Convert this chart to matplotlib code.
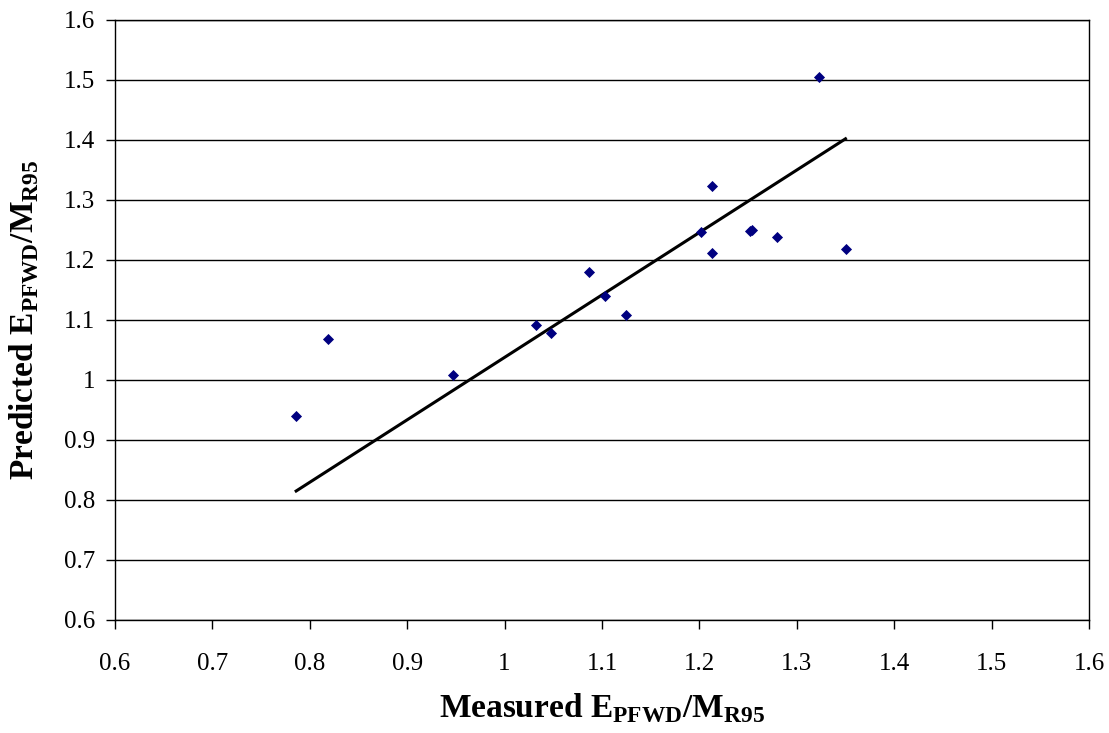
import matplotlib
matplotlib.use("Agg")
import matplotlib.pyplot as plt

measured = [0.786, 0.819, 0.947, 1.032, 1.048, 1.087, 1.103, 1.125,
            1.202, 1.213, 1.213, 1.252, 1.254, 1.280, 1.323, 1.350]
predicted = [0.940, 1.068, 1.008, 1.092, 1.078, 1.180, 1.140, 1.108,
             1.247, 1.323, 1.212, 1.248, 1.250, 1.238, 1.505, 1.218]
trend_x = [0.786, 1.350]
trend_y = [0.815, 1.402]
ticks = [0.6, 0.7, 0.8, 0.9, 1, 1.1, 1.2, 1.3, 1.4, 1.5, 1.6]
tick_labels = ["0.6", "0.7", "0.8", "0.9", "1", "1.1", "1.2", "1.3", "1.4", "1.5", "1.6"]

plt.rcParams['font.family'] = ['Liberation Serif', 'DejaVu Serif']
plt.rcParams['mathtext.fontset'] = 'custom'
plt.rcParams['mathtext.rm'] = 'Liberation Serif:bold'
plt.rcParams['mathtext.bf'] = 'Liberation Serif:bold'

fig = plt.figure(figsize=(11.09, 7.33), dpi=100)
ax = fig.add_axes([115/1109, 1 - 620/733, (1089-115)/1109, 600/733])

ax.set_xlim(0.6, 1.6)
ax.set_ylim(0.6, 1.6)
ax.set_yticks(ticks)
ax.set_yticklabels(tick_labels)
ax.set_xticks(ticks)
ax.set_xticklabels(tick_labels)
ax.yaxis.grid(True, color='black', linewidth=1.0)
ax.set_axisbelow(True)
for s in ax.spines.values():
    s.set_color('black')
    s.set_linewidth(1.0)
ax.tick_params(direction='out', length=6.5, width=1, labelsize=18, colors='black')
ax.tick_params(axis='y', pad=8)
ax.tick_params(axis='x', pad=17)

ax.plot(trend_x, trend_y, color='black', linewidth=2.2, zorder=2)
ax.scatter(measured, predicted, marker='D', s=32, color='#000080', zorder=3, linewidths=0)

ax.set_xlabel(r'Measured E$_{\mathregular{PFWD}}$/M$_{\mathregular{R95}}$',
              fontsize=24, fontweight='bold', labelpad=12)
ax.set_ylabel(r'Predicted E$_{\mathregular{PFWD}}$/M$_{\mathregular{R95}}$',
              fontsize=24, fontweight='bold', labelpad=17)

fig.savefig('out.png', dpi=100)
